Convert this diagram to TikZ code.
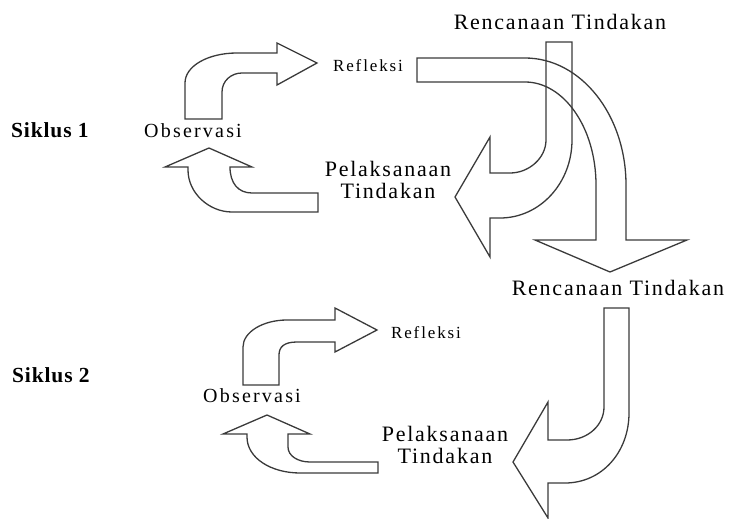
\documentclass[tikz,border=0pt]{standalone}
\usepackage{fontspec}
\setmainfont{Liberation Serif}
\newfontfamily\widefont[LetterSpace=8]{Liberation Serif}
\newfontfamily\spacedfont[LetterSpace=11]{Liberation Serif}
\newfontfamily\cyclefont[LetterSpace=4]{Liberation Serif}
\usepackage{xcolor}
\definecolor{mline}{HTML}{3A3A3A}
\usepackage{tikz}

\begin{document}
\begin{tikzpicture}[x=1pt, y=-1pt,
        blockarrow/.style={draw=mline, line width=1.3pt, line join=miter},
        biglabel/.style={inner sep=0, anchor=base, align=center, font=\widefont\fontsize{22}{22}\selectfont},
        obslabel/.style={inner sep=0, anchor=base, font=\spacedfont\fontsize{20}{22}\selectfont},
        reflabel/.style={inner sep=0, anchor=base, font=\spacedfont\fontsize{17}{19}\selectfont},
        cyclelabel/.style={inner sep=0, anchor=base west, font=\cyclefont\bfseries\fontsize{21.5}{22}\selectfont}]
        \useasboundingbox (0, 0) rectangle (729, 519);

        % siklus 1
        \node[cyclelabel] (sik1) at (11, 137) {Siklus 1};
        \node[biglabel] (renc1) at (560, 30) {Rencanaan Tindakan};
        \node[reflabel] (ref1) at (368, 72) {Refleksi};
        \node[obslabel] (obs1) at (193, 137) {Observasi};
        \node[biglabel] (pel1) at (388, 198) {Pelaksanaan\\Tindakan};

        \draw[blockarrow] (185, 119) -- (185, 83) .. controls (185, 66) and (208, 53) .. (237, 53) -- (277, 53) -- (277, 43) -- (317, 63) -- (277, 85) -- (277, 73) -- (242, 73) .. controls (231, 73) and (222, 81) .. (222, 92) -- (222, 119) -- cycle;
        \draw[blockarrow] (318, 193) -- (318, 212) -- (232, 212) .. controls (209, 212) and (188, 193) .. (188, 170) -- (188, 167) -- (165, 167) -- (209, 148) -- (252, 167) -- (230, 167) .. controls (230, 183) and (238, 193) .. (252, 193) -- cycle;
        \draw[blockarrow] (417, 58) -- (525, 58) .. controls (581, 58) and (626, 115) .. (626, 185) -- (626, 240) -- (687, 240) -- (610, 272) -- (535, 240) -- (596, 240) -- (596, 185) .. controls (596, 128) and (564, 82) .. (525, 82) -- (417, 82) -- cycle;
        \draw[blockarrow] (546, 42) -- (572, 42) -- (572, 140) .. controls (572, 183) and (540, 218) .. (500, 218) -- (490, 218) -- (490, 257) -- (455, 197) -- (490, 137) -- (490, 173) -- (510, 173) .. controls (529, 173) and (546, 158) .. (546, 140) -- cycle;

        % siklus 2
        \node[cyclelabel] (sik2) at (12, 382) {Siklus 2};
        \node[biglabel] (renc2) at (618, 295) {Rencanaan Tindakan};
        \node[reflabel] (ref2) at (426, 338) {Refleksi};
        \node[obslabel] (obs2) at (252, 402) {Observasi};
        \node[biglabel] (pel2) at (445, 463) {Pelaksanaan\\Tindakan};

        \draw[blockarrow] (243, 385) -- (243, 347) .. controls (243, 332) and (263, 320) .. (287, 320) -- (335, 320) -- (335, 308) -- (377, 330) -- (335, 352) -- (335, 342) -- (297, 342) .. controls (284, 342) and (279, 347) .. (279, 355) -- (279, 385) -- cycle;
        \draw[blockarrow] (378, 462) -- (378, 473) -- (300, 473) .. controls (271, 473) and (247, 458) .. (247, 437) -- (247, 434) -- (223, 434) -- (267, 415) -- (310, 434) -- (288, 434) -- (288, 447) .. controls (288, 456) and (298, 462) .. (310, 462) -- cycle;
        \draw[blockarrow] (604, 308) -- (629, 308) -- (629, 413) .. controls (629, 452) and (602, 483) .. (565, 483) -- (548, 483) -- (548, 518) -- (513, 462) -- (548, 402) -- (548, 440) -- (567, 440) .. controls (588, 440) and (604, 425) .. (604, 407) -- cycle;
    \end{tikzpicture}
\end{document}
